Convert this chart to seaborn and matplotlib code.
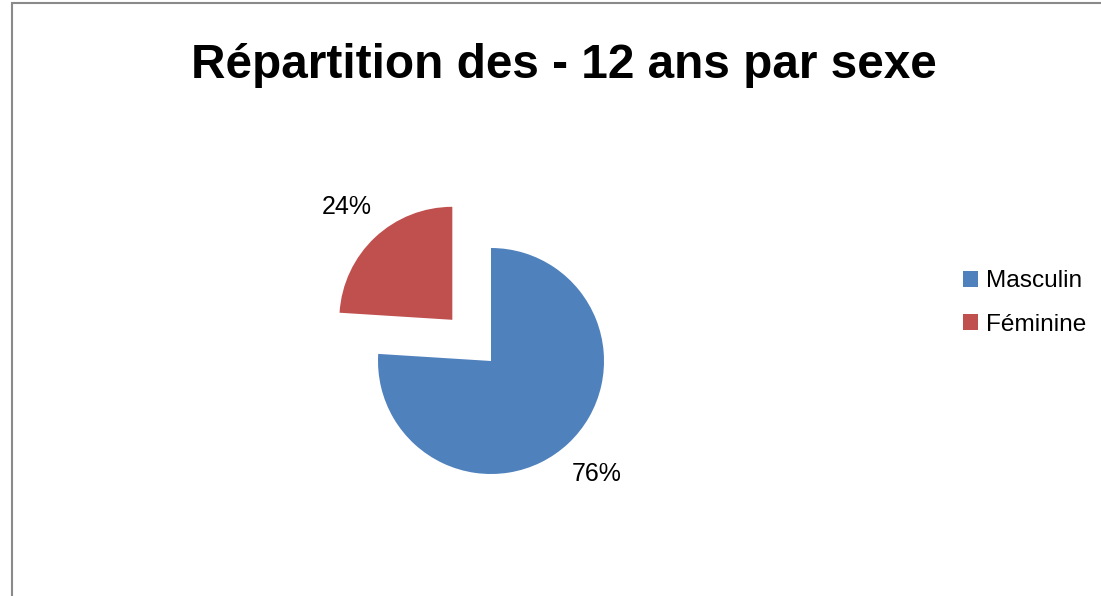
import matplotlib
matplotlib.use("Agg")
import matplotlib.pyplot as plt
import matplotlib.patches as mpatches
import seaborn as sns

# Chart data
categories = ["Masculin", "Féminine"]
shares = [76, 24]
explode_amount = [0, 0.5]
slice_colors = ["#4F81BD", "#C0504D"]
chart_title = "Répartition des - 12 ans par sexe"

sns.set_theme(style="white")
plt.rcParams["font.family"] = ["Liberation Sans", "DejaVu Sans"]

W, H = 1101, 596
fig = plt.figure(figsize=(W / 100, H / 100), dpi=100)
fig.patch.set_facecolor("white")

# pie axes: 1 data unit = 113 px, centred on the blue wedge
R_PX = 113
L = 2.0
cx, cy = 491, 361
side = 2 * L * R_PX
ax = fig.add_axes([(cx - side / 2) / W, (H - cy - side / 2) / H, side / W, side / H])

wedges, texts, autotexts = ax.pie(
    shares,
    explode=explode_amount,
    colors=sns.color_palette(slice_colors),
    startangle=90,
    counterclock=False,
    autopct="%1.0f%%",
    pctdistance=1.37,
    wedgeprops=dict(linewidth=0),
    textprops=dict(fontsize=18, color="black"),
)
ax.set_xlim(-L, L)
ax.set_ylim(-L, L)
ax.set_aspect("equal")
ax.axis("off")

# title
fig.text(563.5 / W, 1 - 66 / H, chart_title, ha="center", va="center",
         fontsize=34.4, fontweight="bold", color="black")

# legend on the right
fig.legend(wedges, categories, loc="center left",
           bbox_to_anchor=(951 / W, 1 - 303 / H), frameon=False,
           fontsize=17.6, labelcolor="black", handlelength=0.62, handleheight=0.62,
           handletextpad=0.3, labelspacing=0.88, borderpad=0)

# chart area border (only top and left visible in the crop)
border = mpatches.Rectangle((12 / W, -0.1), 1.2, 1 - 3 / H + 0.1,
                            transform=fig.transFigure, fill=False,
                            edgecolor="#8a8a8a", linewidth=1.5)
fig.add_artist(border)

fig.savefig("out.png", dpi=100, facecolor="white")
